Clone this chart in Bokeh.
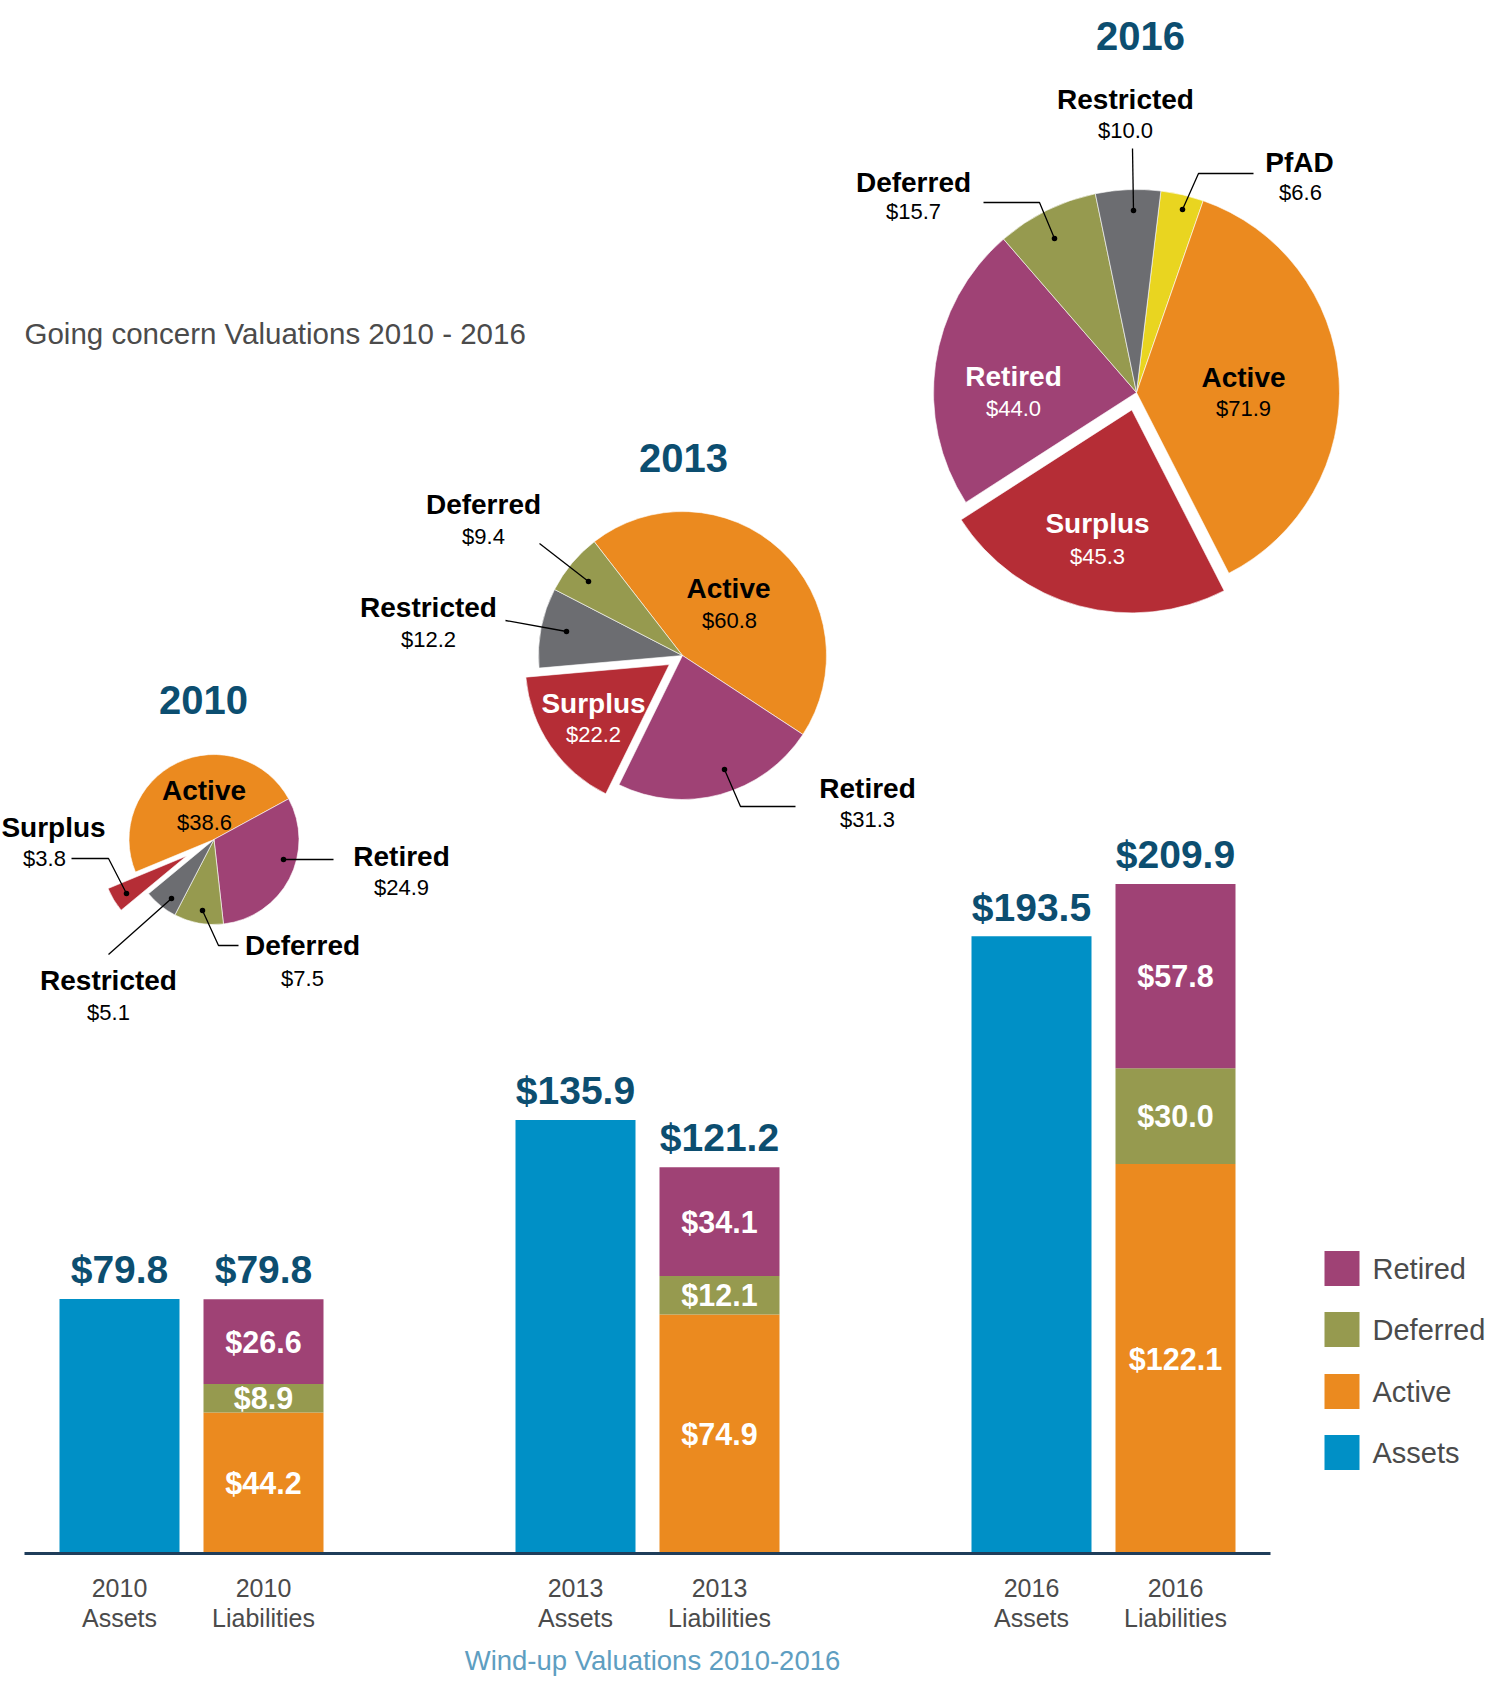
import math
from bokeh.plotting import figure
from bokeh.models import Range1d, ColumnDataSource
from bokeh.core.properties import value
from bokeh.embed import file_html
from bokeh.resources import INLINE

# ---------------- data ----------------
slice_names_2010 = ["Active", "Retired", "Deferred", "Restricted", "Surplus"]
slice_values_2010 = [38.6, 24.9, 7.5, 5.1, 3.8]
slice_names_2013 = ["Active", "Retired", "Surplus", "Restricted", "Deferred"]
slice_values_2013 = [60.8, 31.3, 22.2, 12.2, 9.4]
slice_names_2016 = ["PfAD", "Active", "Surplus", "Retired", "Deferred", "Restricted"]
slice_values_2016 = [6.6, 71.9, 45.3, 44.0, 15.7, 10.0]

bar_years = ["2010", "2013", "2016"]
assets = [79.8, 135.9, 193.5]
liab_active = [44.2, 74.9, 122.1]
liab_deferred = [8.9, 12.1, 30.0]
liab_retired = [26.6, 34.1, 57.8]
liab_total = [79.8, 121.2, 209.9]

legend_items = ["Retired", "Deferred", "Active", "Assets"]
title_pies = "Going concern Valuations 2010 - 2016"
title_bars = "Wind-up Valuations 2010-2016"

# ---------------- style ----------------
FONT = value("Liberation Sans")
COL = {
    "Assets": "#0090c6", "Active": "#eb8a1f", "Deferred": "#969a4f",
    "Retired": "#9f4275", "Surplus": "#b52d36", "Restricted": "#6c6d71",
    "PfAD": "#e9d520",
}
DARK_BLUE = "#0c4e70"
GRAY_TXT = "#4b4b4b"
LIGHT_BLUE = "#5e9ec1"
BASE_COL = "#1f3d5a"

W, H = 1486, 1679
TOP = 1687  # data y = TOP - picture y


def Y(sy):
    return TOP - sy


p = figure(width=W, height=H, x_range=Range1d(0, W), y_range=Range1d(TOP - H, TOP),
           output_backend="svg", toolbar_location=None, min_border=0)
p.axis.visible = False
p.grid.visible = False
p.outline_line_color = None
p.background_fill_color = "white"
p.border_fill_color = "white"

# value scale for bars: baseline at picture y 1553, 3.19 px per $M
BASE_SY = 1553
PX_PER = 3.19
p.extra_y_ranges = {"val": Range1d(start=(TOP - H - Y(BASE_SY)) / PX_PER,
                                   end=(TOP - Y(BASE_SY)) / PX_PER)}

# ---------------- pies ----------------
PIE_LAYOUT = {
    "2010": dict(cx=213.5, cy=839, r=85, start=247.5, explode=32, title=(203, 699)),
    "2013": dict(cx=682, cy=655, r=144, start=322.2, explode=16, title=(683, 457)),
    "2016": dict(cx=1136, cy=392, r=203, start=6.9, explode=18, title=(1140, 35)),
}
PIE_DATA = {
    "2010": (slice_names_2010, slice_values_2010),
    "2013": (slice_names_2013, slice_values_2013),
    "2016": (slice_names_2016, slice_values_2016),
}
# label layout: name centre, value centre, text colour
PIE_LABELS = {
    "2010": {
        "Active": ((203.5, 790), (204, 822), "black"),
        "Retired": ((401, 856), (401, 887), "black"),
        "Deferred": ((302, 945), (302, 978), "black"),
        "Restricted": ((108, 980), (108, 1012), "black"),
        "Surplus": ((53, 827), (44, 858), "black"),
    },
    "2013": {
        "Active": ((728, 588), (729, 620), "black"),
        "Surplus": ((593, 703), (593, 734), "white"),
        "Retired": ((867, 788), (867, 819), "black"),
        "Restricted": ((428, 607), (428, 639), "black"),
        "Deferred": ((483, 504), (483, 536), "black"),
    },
    "2016": {
        "Restricted": ((1125, 99), (1125, 130), "black"),
        "PfAD": ((1299, 162), (1300, 192), "black"),
        "Deferred": ((913, 182), (913, 211), "black"),
        "Retired": ((1013, 376), (1013, 408), "white"),
        "Active": ((1243, 377), (1243, 408), "black"),
        "Surplus": ((1097, 523), (1097, 556), "white"),
    },
}
LEADERS = [
    [(71, 858), (108, 858), (126, 893)],
    [(333, 859), (283, 859)],
    [(238, 945), (218, 945), (202, 910)],
    [(108, 954), (171, 898)],
    [(795, 806), (740, 806), (724, 769)],
    [(505, 620), (566, 631)],
    [(539, 543), (588, 581)],
    [(1132, 148), (1133, 210)],
    [(1253, 173), (1198, 173), (1182, 209)],
    [(983, 202), (1039, 202), (1054, 238)],
]

for year, (names, vals) in PIE_DATA.items():
    lay = PIE_LAYOUT[year]
    total = sum(vals)
    theta = lay["start"]
    xs, ys, sa, ea, cols = [], [], [], [], []
    for name, v in zip(names, vals):
        span = v / total * 360.0
        t0, t1 = theta, theta + span
        theta = t1
        cx, cy = lay["cx"], Y(lay["cy"])
        if name == "Surplus":
            mid = math.radians((t0 + t1) / 2)
            cx += lay["explode"] * math.sin(mid)
            cy += lay["explode"] * math.cos(mid)
        xs.append(cx)
        ys.append(cy)
        sa.append(math.radians(90 - t1))
        ea.append(math.radians(90 - t0))
        cols.append(COL[name])
    src = ColumnDataSource(dict(x=xs, y=ys, sa=sa, ea=ea, c=cols))
    p.wedge(x="x", y="y", radius=lay["r"], start_angle="sa", end_angle="ea",
            fill_color="c", line_color="white", line_width=0.6, source=src)

    # title
    tx, ty = lay["title"]
    p.text(x=[tx], y=[Y(ty)], text=[year], text_font=FONT, text_font_size="40px",
           text_font_style="bold", text_color=DARK_BLUE, text_align="center",
           text_baseline="middle")
    # labels
    nx, ny, nt, nc, vx, vy, vt = [], [], [], [], [], [], []
    for name, v in zip(names, vals):
        (ax, ay), (bx, by), c = PIE_LABELS[year][name]
        nx.append(ax); ny.append(Y(ay)); nt.append(name); nc.append(c)
        vx.append(bx); vy.append(Y(by)); vt.append(f"${v:.1f}")
    p.text(x=nx, y=ny, text=nt, text_color=nc, text_font=FONT, text_font_size="28px",
           text_font_style="bold", text_align="center", text_baseline="middle")
    p.text(x=vx, y=vy, text=vt, text_color=nc, text_font=FONT, text_font_size="22px",
           text_align="center", text_baseline="middle")

p.multi_line(xs=[[pt[0] for pt in L] for L in LEADERS],
             ys=[[Y(pt[1]) for pt in L] for L in LEADERS],
             line_color="black", line_width=1.3)
p.scatter(x=[L[-1][0] for L in LEADERS], y=[Y(L[-1][1]) for L in LEADERS],
          size=5.5, marker="circle", fill_color="black", line_color=None)

# chart title (pies)
p.text(x=[24], y=[Y(333)], text=[title_pies], text_font=FONT, text_font_size="29.5px",
       text_color=GRAY_TXT, text_align="left", text_baseline="middle")

# ---------------- bars ----------------
GROUP_X = [191, 647, 1103]
OFF = 72
BAR_W = 120
ax_x = [g - OFF for g in GROUP_X]
lb_x = [g + OFF for g in GROUP_X]

p.vbar(x=ax_x, width=BAR_W, bottom=0, top=assets, fill_color=COL["Assets"],
       line_color=None, y_range_name="val")
b1 = liab_active
b2 = [a + d for a, d in zip(liab_active, liab_deferred)]
b3 = [a + d + r for a, d, r in zip(liab_active, liab_deferred, liab_retired)]
p.vbar(x=lb_x, width=BAR_W, bottom=0, top=b1, fill_color=COL["Active"],
       line_color=None, y_range_name="val")
p.vbar(x=lb_x, width=BAR_W, bottom=b1, top=b2, fill_color=COL["Deferred"],
       line_color=None, y_range_name="val")
p.vbar(x=lb_x, width=BAR_W, bottom=b2, top=b3, fill_color=COL["Retired"],
       line_color=None, y_range_name="val")

# baseline
p.segment(x0=[24], x1=[1270], y0=[0], y1=[0], line_color=BASE_COL, line_width=3,
          y_range_name="val")

# totals above bars
p.text(x=ax_x + lb_x, y=assets + liab_total,
       text=[f"${v:.1f}" for v in assets + liab_total], y_offset=-29,
       text_font=FONT, text_font_size="39px", text_font_style="bold",
       text_color=DARK_BLUE, text_align="center", text_baseline="middle",
       y_range_name="val")

# segment labels
seg_x = lb_x * 3
seg_y = [a / 2 for a in liab_active] + \
        [(lo + hi) / 2 for lo, hi in zip(b1, b2)] + \
        [(lo + hi) / 2 for lo, hi in zip(b2, b3)]
seg_t = [f"${v:.1f}" for v in liab_active + liab_deferred + liab_retired]
p.text(x=seg_x, y=seg_y, text=seg_t, text_font=FONT, text_font_size="30.5px",
       text_font_style="bold", text_color="white", text_align="center",
       text_baseline="middle", y_range_name="val")

# category labels
cat_x = ax_x + lb_x
p.text(x=cat_x, y=[Y(1587)] * 6, text=bar_years + bar_years, text_font=FONT,
       text_font_size="25px", text_color=GRAY_TXT, text_align="center",
       text_baseline="middle")
p.text(x=cat_x, y=[Y(1617)] * 6, text=["Assets"] * 3 + ["Liabilities"] * 3,
       text_font=FONT, text_font_size="25px", text_color=GRAY_TXT,
       text_align="center", text_baseline="middle")

# bottom title
p.text(x=[652], y=[Y(1660)], text=[title_bars], text_font=FONT, text_font_size="27.5px",
       text_color=LIGHT_BLUE, text_align="center", text_baseline="middle")

# legend
LEG_Y = [1268, 1329, 1391, 1452]
p.rect(x=[1341.5] * 4, y=[Y(v) for v in LEG_Y], width=35, height=35,
       fill_color=[COL[k] for k in legend_items], line_color=None)
p.text(x=[1372] * 4, y=[Y(v) for v in LEG_Y], text=legend_items, text_font=FONT,
       text_font_size="29px", text_color=GRAY_TXT, text_align="left",
       text_baseline="middle")

open("out.html", "w").write(file_html(p, INLINE))
